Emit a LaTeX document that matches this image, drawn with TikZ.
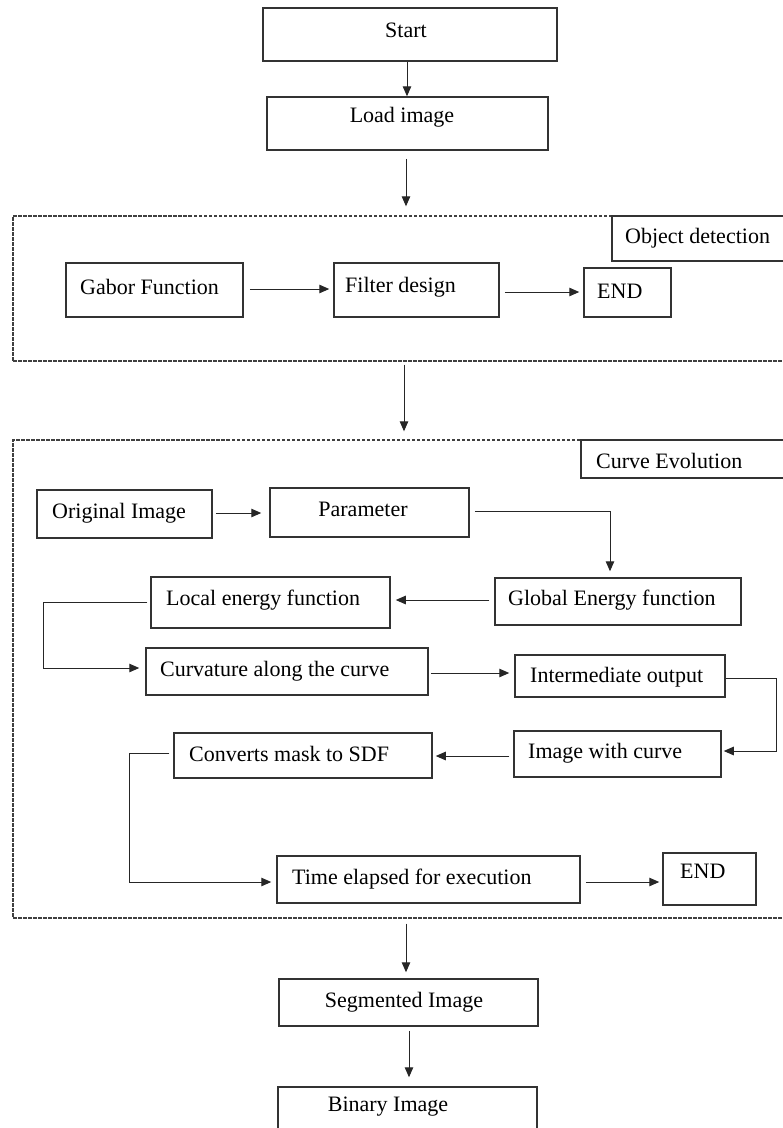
\documentclass[tikz,border=0pt]{standalone}
\usepackage{fontspec}
\setmainfont{Liberation Serif}
\usetikzlibrary{arrows.meta,calc}
\begin{document}
\begin{tikzpicture}[x=1pt,y=-1pt,
  box/.style={draw=black!80,line width=1.5pt,rectangle,inner sep=0pt,fill=white},
  frame/.style={draw=black!75,line width=1.4pt,dash pattern=on 3.5pt off 1.5pt,rectangle,inner sep=0pt},
  txt/.style={inner sep=0pt,anchor=west,font=\fontsize{22}{25}\selectfont},
  ctxt/.style={inner sep=0pt,font=\fontsize{22}{25}\selectfont},
  arr/.style={draw=black!85,line width=1pt,-{Triangle[length=10pt,width=8.5pt]}},
  lin/.style={draw=black!85,line width=1.1pt}]
\clip (0,0) rectangle (783,1128);
\fill[white] (0,0) rectangle (783,1128);
% frames
\node[frame,minimum width=777pt,minimum height=145pt] (odframe) at (401.5,288.5) {};
\node[frame,minimum width=777pt,minimum height=478pt] (ceframe) at (401.5,679) {};
\node[box,minimum width=178pt,minimum height=45pt] (odlabel) at (701,238.5) {};
\node[txt] at (625,238) {Object detection};
\node[box,minimum width=209pt,minimum height=38pt] (celabel) at (685.5,459) {};
\node[txt] at (596,461) {Curve Evolution};
% top
\node[box,minimum width=294pt,minimum height=53pt] (start) at (410,34.5) {};
\node[ctxt] at (406,30) {Start};
\node[box,minimum width=281pt,minimum height=53pt] (load) at (407.5,123.5) {};
\node[ctxt] at (402,117) {Load image};
% object detection
\node[box,minimum width=177pt,minimum height=54pt] (gabor) at (154.5,290) {};
\node[txt] at (80,287) {Gabor Function};
\node[box,minimum width=165pt,minimum height=54pt] (filter) at (416.5,290) {};
\node[txt] at (345,287) {Filter design};
\node[box,minimum width=87pt,minimum height=49pt] (endA) at (627.5,292.5) {};
\node[txt] at (597,291) {END};
% curve evolution
\node[box,minimum width=175pt,minimum height=48pt] (orig) at (124.5,514) {};
\node[txt] at (52,513) {Original Image};
\node[box,minimum width=199pt,minimum height=49pt] (param) at (369.5,512.5) {};
\node[ctxt] at (363,509) {Parameter};
\node[box,minimum width=246pt,minimum height=47pt] (global) at (618,601.5) {};
\node[txt] at (508,600) {Global Energy function};
\node[box,minimum width=239pt,minimum height=51pt] (local) at (270.5,602.5) {};
\node[txt] at (166,600) {Local energy function};
\node[box,minimum width=282pt,minimum height=47pt] (curv) at (287,671.5) {};
\node[txt] at (160,671) {Curvature along the curve};
\node[box,minimum width=210pt,minimum height=42pt] (inter) at (620,676) {};
\node[txt] at (530,677) {Intermediate output};
\node[box,minimum width=207pt,minimum height=46pt] (imgc) at (617.5,754) {};
\node[txt] at (528,753) {Image with curve};
\node[box,minimum width=258pt,minimum height=45pt] (conv) at (303,755.5) {};
\node[txt] at (189,754) {Converts mask to SDF};
\node[box,minimum width=303pt,minimum height=47pt] (time) at (428.5,879.5) {};
\node[txt] at (292,879) {Time elapsed for execution};
\node[box,minimum width=93pt,minimum height=52pt] (endB) at (709.5,879) {};
\node[txt] at (680,871) {END};
% bottom
\node[box,minimum width=259pt,minimum height=47pt] (seg) at (408.5,1002.5) {};
\node[ctxt] at (404,1002) {Segmented Image};
\node[box,minimum width=259pt,minimum height=53pt] (bin) at (407.5,1113.5) {};
\node[ctxt] at (388,1107) {Binary Image};
% connectors
\draw[arr] ($(start.south)+(-3,0)$) -- ($(load.north)+(-0.5,0)$);
\draw[arr] ($(load.south)+(-1.5,8)$) -- ($(odframe.north)+(4.5,-9)$);
\draw[arr] ($(gabor.east)+(6,-1)$) -- ($(filter.west)+(-4,-1)$);
\draw[arr] ($(filter.east)+(5,2)$) -- ($(endA.west)+(-4,-0.5)$);
\draw[arr] ($(odframe.south)+(2.5,3)$) -- ($(ceframe.north)+(2.5,-8)$);
\draw[arr] ($(orig.east)+(3,-1)$) -- ($(param.west)+(-8,0.5)$);
\draw[arr] ($(param.east)+(5,-1.5)$) -| ($(global.north)+(-8,-6)$);
\draw[arr] ($(global.west)+(-5,-1.5)$) -- ($(local.east)+(5,-2.5)$);
\draw[arr] ($(local.west)+(-3,0)$) -- ++(-104,0) |- ($(curv.west)+(-6,-3.5)$);
\draw[arr] ($(curv.east)+(2,1.5)$) -- ($(inter.west)+(-5,-3)$);
\draw[arr] ($(inter.east)+(0,2)$) -- ++(51,0) |- ($(imgc.east)+(2,-3)$);
\draw[arr] ($(imgc.west)+(-4,2)$) -- ($(conv.east)+(3,0.5)$);
\draw[arr] ($(conv.west)+(-4,-2.5)$) -- ++(-40,0) |- ($(time.west)+(-5,2.5)$);
\draw[arr] ($(time.east)+(5,2.5)$) -- ($(endB.west)+(-3,3)$);
\draw[arr] ($(ceframe.south)+(4.5,5)$) -- ($(seg.north)+(-2.5,-6)$);
\draw[arr] ($(seg.south)+(0.5,4)$) -- ($(bin.north)+(1.5,-9)$);
\end{tikzpicture}
\end{document}
